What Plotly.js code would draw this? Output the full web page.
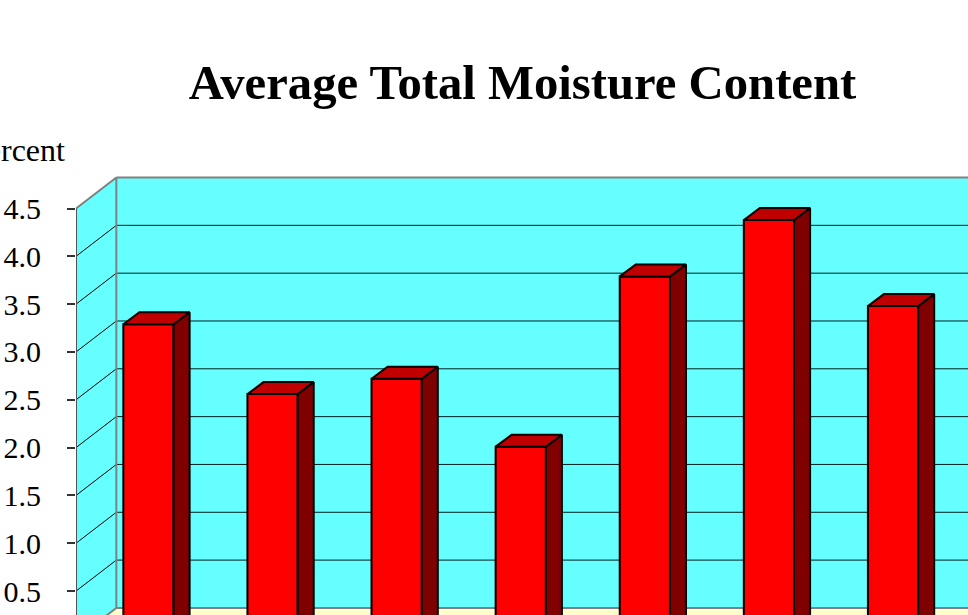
<!DOCTYPE html>
<html><head><meta charset="utf-8">
<script src="https://cdn.plot.ly/plotly-3.0.1.min.js"></script>
<style>html,body{margin:0;padding:0;background:#fff;overflow:hidden}</style>
</head><body><div id="chart" style="width:968px;height:615px"></div>
<script>
// Data
const categories = [0, 1, 2, 3, 4, 5, 6];
const moisture = [3.19, 2.46, 2.62, 1.91, 3.69, 4.28, 3.38];
const tickValues = [0.5, 1.0, 1.5, 2.0, 2.5, 3.0, 3.5, 4.0, 4.5];
const tickLabels = ['0.5', '1.0', '1.5', '2.0', '2.5', '3.0', '3.5', '4.0', '4.5'];

// Axis windows and pseudo-3D projection, in data units
const xRange = [-0.584, 6.604], yRange = [0.25, 6.68];
const wallDx = 0.325, wallDy = 0.324;  // depth of the chart box
const barDx = 0.129, barDy = 0.125;    // depth of a bar
const barWidth = 0.405, barBase = 0.1; // front face sits inside the box
const xL = xRange[0], xR = 7.2, boxTop = 4.5, boxBottom = 0;

const serif = '"Liberation Serif","Times New Roman",serif';
const poly = pts => 'M' + pts.map(p => p[0] + ',' + p[1]).join('L') + 'Z';
const area = (pts, fill) => ({type: 'path', xref: 'x', yref: 'y', layer: 'below', path: poly(pts), fillcolor: fill, line: {width: 0}});
const seg = (x0, y0, x1, y1, color, width) => ({type: 'line', xref: 'x', yref: 'y', layer: 'below', x0, y0, x1, y1, line: {color, width}});

const shapes = [
  area([[xL, boxBottom], [xL, boxTop], [xL + wallDx, boxTop + wallDy], [xL + wallDx, boxBottom + wallDy]], '#66FFFF'),
  area([[xL + wallDx, boxBottom + wallDy], [xL + wallDx, boxTop + wallDy], [xR, boxTop + wallDy], [xR, boxBottom + wallDy]], '#66FFFF'),
  area([[xL, boxBottom], [xL + wallDx, boxBottom + wallDy], [xR, boxBottom + wallDy], [xR, boxBottom]], '#FFFFCC')
];
tickValues.slice(0, -1).forEach(v => {
  shapes.push(seg(xL, v, xL + wallDx, v + wallDy, '#000000', 1));
  shapes.push(seg(xL + wallDx, v + wallDy, xR, v + wallDy, '#022020', 1));
});
shapes.push(seg(xL + wallDx, boxBottom + wallDy, xL + wallDx, boxTop + wallDy, '#808080', 2));
shapes.push(seg(xL, boxBottom, xL + wallDx, boxBottom + wallDy, '#808080', 2));
shapes.push(seg(xL + wallDx, boxBottom + wallDy, xR, boxBottom + wallDy, '#808080', 2));
shapes.push(seg(xL, boxTop, xL + wallDx, boxTop + wallDy, '#808080', 2));
shapes.push(seg(xL + wallDx, boxTop + wallDy, xR, boxTop + wallDy, '#808080', 2));

const sideX = [], sideY = [], topX = [], topY = [];
categories.forEach((c, i) => {
  const r = c + barWidth / 2, l = c - barWidth / 2, h = moisture[i] + barBase;
  sideX.push(r, r + barDx, r + barDx, r, r, null);
  sideY.push(barBase, barBase + barDy, h + barDy, h, barBase, null);
  topX.push(l, l + barDx, r + barDx, r, l, null);
  topY.push(h, h + barDy, h + barDy, h, h, null);
});

const traces = [
  {type: 'bar', x: categories, y: moisture, base: barBase, width: barWidth,
   marker: {color: '#FF0000', line: {color: '#000000', width: 2}}, hoverinfo: 'y'},
  {type: 'scatter', mode: 'lines', x: sideX, y: sideY, fill: 'toself', fillcolor: '#800000',
   line: {color: '#000000', width: 2}, hoverinfo: 'skip'},
  {type: 'scatter', mode: 'lines', x: topX, y: topY, fill: 'toself', fillcolor: '#C00000',
   line: {color: '#000000', width: 2}, hoverinfo: 'skip'},
  {type: 'scatter', mode: 'lines', x: [xL, xL], y: [yRange[0], boxTop], cliponaxis: false,
   line: {color: '#555555', width: 2}, hoverinfo: 'skip'}
];

const layout = {
  width: 968, height: 615, showlegend: false, paper_bgcolor: '#fff', plot_bgcolor: '#fff',
  margin: {l: 76, r: 0, t: 0, b: 0, pad: 0},
  title: {text: '<b>Average Total Moisture Content</b>', x: 522.5 / 968, xanchor: 'center',
          y: 1 - 82 / 615, yanchor: 'middle', yref: 'container',
          font: {family: serif, size: 48.7, color: '#000'}},
  xaxis: {range: xRange, visible: false, fixedrange: true},
  yaxis: {range: yRange, tickmode: 'array', tickvals: tickValues, ticktext: tickLabels,
          showgrid: false, zeroline: false, showline: false, ticks: 'outside', ticklen: 8,
          tickwidth: 2, tickcolor: '#333', ticklabelstandoff: 20,
          tickfont: {family: serif, size: 30, color: '#000'}, fixedrange: true},
  shapes,
  annotations: [{text: 'Percent', xref: 'paper', yref: 'paper', x: (67 - 76) / 892, y: 1 - 150 / 615,
                 xanchor: 'right', yanchor: 'middle', showarrow: false,
                 font: {family: serif, size: 32, color: '#000'}}]
};
Plotly.newPlot('chart', traces, layout, {displayModeBar: false, staticPlot: true});
</script></body></html>
